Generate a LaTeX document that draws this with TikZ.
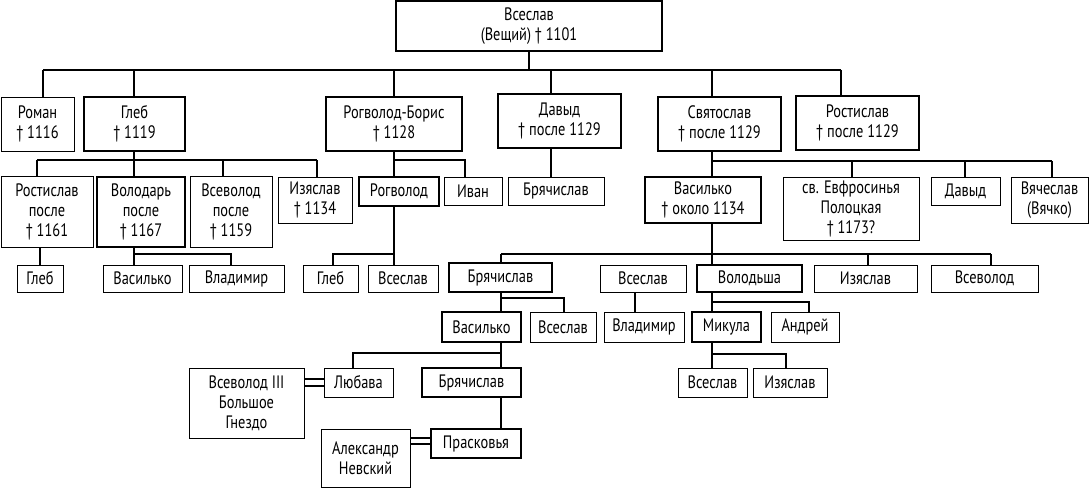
\documentclass[tikz,border=0pt]{standalone}
\usepackage{fontspec}
\setmainfont[FakeStretch=0.8]{PT Sans}
\usetikzlibrary{calc}

\tikzset{
  box/.style={draw,align=center,inner sep=0pt,font=\fontsize{18}{20}\selectfont},
  thinbox/.style={box,line width=0.9pt},
  thickbox/.style={box,line width=1.7pt},
  link/.style={line width=1.4pt}
}
% box from its corners: name, x1, y1, x2, y2, style, text
\newcommand{\pbox}[7]{%
  \node[#6,minimum width={(#4-#2)*1pt},minimum height={(#5-#3)*1pt}]
    (#1) at ({(#2+#4)/2},{(#3+#5)/2}) {#7};}

\begin{document}
\begin{tikzpicture}[x=1pt,y=-1pt]
	\useasboundingbox (0,0) rectangle (1090,488);
	
	% Vseslav and his sons
	\pbox{vseslav}{396}{1}{662}{51}{thickbox}{Всеслав\\(Вещий) † 1101}
	\pbox{roman}{1}{97}{74}{151}{thinbox}{Роман\\† 1116}
	\pbox{gleb}{84}{97}{185}{151}{thickbox}{Глеб\\† 1119}
	\pbox{rogboris}{326}{97}{462}{151}{thickbox}{Рогволод-Борис\\† 1128}
	\pbox{davyd}{498}{94}{621}{148}{thickbox}{Давыд\\† после 1129}
	\pbox{svyatoslav}{658}{97}{781}{151}{thickbox}{Святослав\\† после 1129}
	\pbox{rostislav}{796}{96}{919}{150}{thickbox}{Ростислав\\† после 1129}
	
	\draw[link] (vseslav.south) -- ++(0,18) coordinate (b1);
	\draw[link] (43,0 |- b1) -- (841,0 |- b1);
	\foreach \n/\x in {roman/43,gleb/134,rogboris/394,davyd/551,svyatoslav/712,rostislav/841}
		\draw[link] (\x,0 |- b1) -- (\x,0 |- \n.north);
	
	% grandsons
	\pbox{rostgl}{1}{176}{93}{247}{thinbox}{Ростислав\\после\\† 1161}
	\pbox{volodar}{97}{177}{185}{247}{thickbox}{Володарь\\после\\† 1167}
	\pbox{vsevgl}{190}{176}{272}{247}{thinbox}{Всеволод\\после\\† 1159}
	\pbox{izyagl}{278}{177}{352}{223}{thinbox}{Изяслав\\† 1134}
	\pbox{rogvolod}{359}{177}{439}{206}{thickbox}{Рогволод}
	\pbox{ivan}{444}{177}{502}{205}{thinbox}{Иван}
	\pbox{bryachd}{508}{177}{604}{205}{thinbox}{Брячислав}
	\pbox{vasilko}{645}{177}{761}{223}{thickbox}{Василько\\† около 1134}
	\pbox{evfros}{783}{177}{919}{240}{thinbox}{св. Евфросинья\\Полоцкая\\† 1173?}
	\pbox{davydsv}{931}{177}{1000}{205}{thinbox}{Давыд}
	\pbox{vyacheslav}{1011}{177}{1088}{223}{thinbox}{Вячеслав\\(Вячко)}
	
	\draw[link] (37,160) -- (317,160);
	\foreach \n/\x in {rostgl/37,volodar/134,vsevgl/223,izyagl/317}
		\draw[link] (\x,160) -- (\x,0 |- \n.north);
	\draw[link] (134,0 |- gleb.south) -- (134,160);
	\draw[link] (394,0 |- rogboris.south) -- (394,0 |- rogvolod.north);
	\draw[link] (394,160) -| (465,0 |- ivan.north);
	\draw[link] (551,0 |- davyd.south) -- (551,0 |- bryachd.north);
	\draw[link] (712,0 |- svyatoslav.south) -- (712,0 |- vasilko.north);
	\draw[link] (712,161) -- (1052,161);
	\foreach \n/\x in {evfros/852,davydsv/965,vyacheslav/1052}
		\draw[link] (\x,161) -- (\x,0 |- \n.north);
	
	% next generation
	\pbox{glebr}{17}{265}{63}{292}{thinbox}{Глеб}
	\pbox{vasilkov}{103}{265}{182}{292}{thinbox}{Василько}
	\pbox{vladimirv}{189}{265}{284}{292}{thinbox}{Владимир}
	\pbox{glebrg}{303}{265}{358}{292}{thinbox}{Глеб}
	\pbox{vseslavrg}{368}{265}{438}{292}{thinbox}{Всеслав}
	\pbox{bryachv}{449}{263}{552}{292}{thickbox}{Брячислав}
	\pbox{vseslavv}{600}{265}{686}{292}{thinbox}{Всеслав}
	\pbox{volodsha}{697}{265}{802}{292}{thickbox}{Володьша}
	\pbox{izyaslavv}{814}{265}{917}{292}{thinbox}{Изяслав}
	\pbox{vsevolodv}{931}{265}{1038}{292}{thinbox}{Всеволод}
	
	\draw[link] (40,0 |- rostgl.south) -- (40,0 |- glebr.north);
	\draw[link] (134,0 |- volodar.south) -- (134,0 |- vasilkov.north);
	\draw[link] (134,254) -| (231,0 |- vladimirv.north);
	\draw[link] (394,0 |- rogvolod.south) -- (394,0 |- vseslavrg.north);
	\draw[link] (394,254) -| (333,0 |- glebrg.north);
	\draw[link] (712,0 |- vasilko.south) -- (712,0 |- volodsha.north);
	\draw[link] (501,254) -- (991,254);
	\foreach \n/\x in {bryachv/501,izyaslavv/868,vsevolodv/991}
		\draw[link] (\x,254) -- (\x,0 |- \n.north);
	
	\pbox{vasilkob}{442}{312}{521}{342}{thickbox}{Василько}
	\pbox{vseslavb}{530}{312}{596}{342}{thinbox}{Всеслав}
	\pbox{vladimirb}{604}{312}{684}{342}{thinbox}{Владимир}
	\pbox{mikula}{692}{312}{761}{342}{thickbox}{Микула}
	\pbox{andrei}{771}{312}{839}{342}{thinbox}{Андрей}
	
	\draw[link] (501,0 |- bryachv.south) -- (501,0 |- vasilkob.north);
	\draw[link] (501,298) -| (564,0 |- vseslavb.north);
	\draw[link] (635,0 |- vseslavv.south) -- (635,0 |- vladimirb.north);
	\draw[link] (712,0 |- volodsha.south) -- (712,0 |- mikula.north);
	\draw[link] (712,302) -| (809,0 |- andrei.north);
	
	\pbox{vsevolod3}{189}{368}{304}{438}{thinbox}{Всеволод III\\Большое\\Гнездо}
	\pbox{lyubava}{324}{368}{393}{397}{thinbox}{Любава}
	\pbox{bryachb}{422}{368}{521}{397}{thickbox}{Брячислав}
	\pbox{vseslavm}{678}{368}{747}{397}{thinbox}{Всеслав}
	\pbox{izyaslavm}{753}{368}{827}{397}{thinbox}{Изяслав}
	\pbox{alexander}{321}{429}{410}{487}{thinbox}{Александр\\Невский}
	\pbox{praskovya}{431}{429}{521}{458}{thickbox}{Прасковья}
	
	\draw[link] (501,0 |- vasilkob.south) -- (501,0 |- bryachb.north);
	\draw[link] (501,353) -| (353,0 |- lyubava.north);
	\draw[link] (712,0 |- mikula.south) -- (712,0 |- vseslavm.north);
	\draw[link] (712,354) -| (786,0 |- izyaslavm.north);
	\draw[link] (501,0 |- bryachb.south) -- (501,0 |- praskovya.north);
	
	% marriages
	\draw[link] (vsevolod3.east |- 0,379) -- (lyubava.west |- 0,379);
	\draw[link] (vsevolod3.east |- 0,386) -- (lyubava.west |- 0,386);
	\draw[link] (alexander.east |- 0,438) -- (praskovya.west |- 0,438);
	\draw[link] (alexander.east |- 0,444) -- (praskovya.west |- 0,444);
	
\end{tikzpicture}
\end{document}
